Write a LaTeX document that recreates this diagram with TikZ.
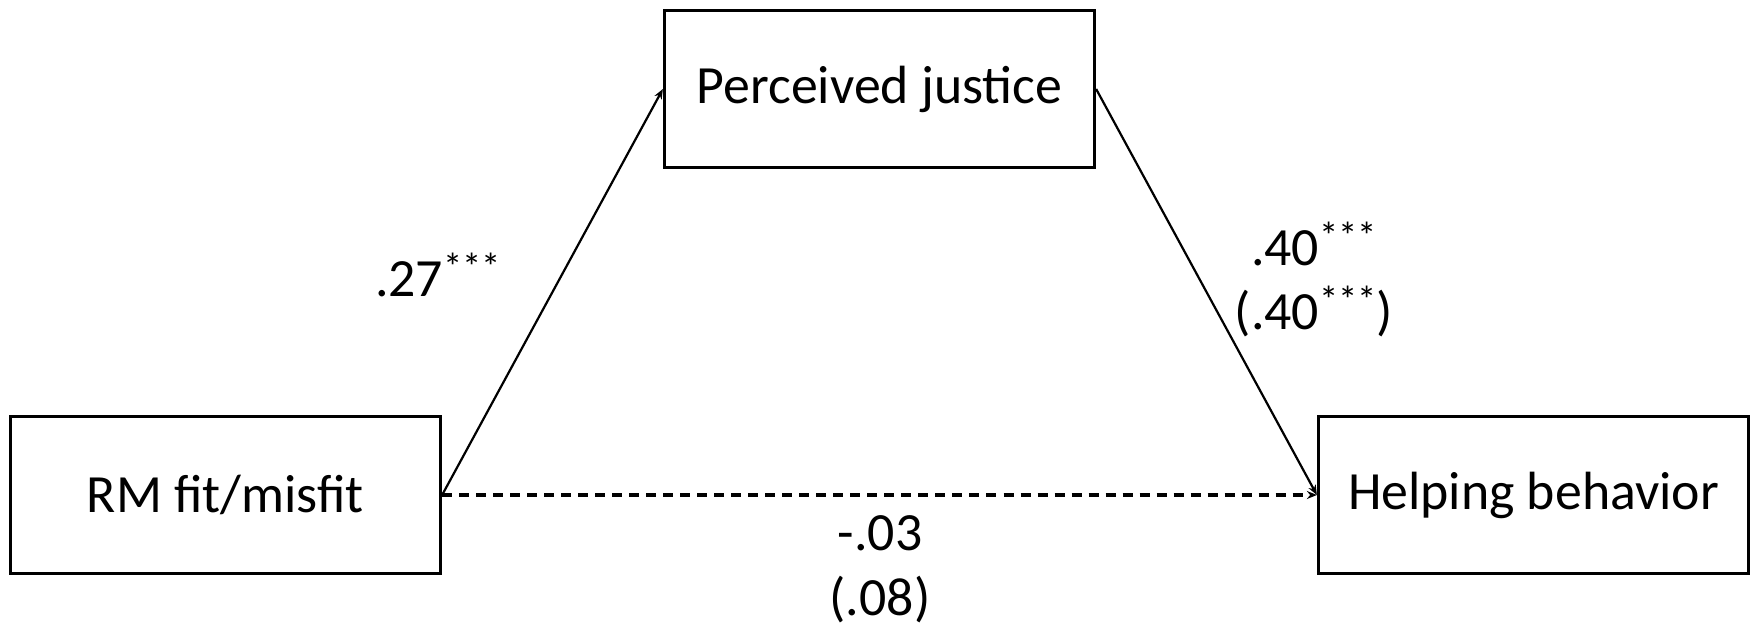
\documentclass[tikz,border=0pt]{standalone}
\usepackage{fontspec}
\setmainfont{Carlito}
\usetikzlibrary{arrows.meta}
\newcommand{\estrellas}{\raisebox{0.3em}{\fontsize{11}{11}\selectfont ***}}
\begin{document}
\begin{tikzpicture}[x=0.01cm,y=0.01cm,>={Stealth[length=0.1cm,width=0.08cm]},
        caja/.style={draw,line width=0.03cm,minimum width=4.30cm,minimum height=1.57cm,inner sep=0pt,font=\fontsize{15.3}{18.3}\selectfont},
        coef/.style={align=center,inner sep=0pt,font=\fontsize{15.3}{18.3}\selectfont}]
        \useasboundingbox (0,0) rectangle (1760,633);
        \node[caja] (rm) at (225.5,138) {RM fit/misfit}; % caja izquierda
        \node[caja] (pj) at (879.5,544) {Perceived justice}; % caja arriba
        \node[caja] (hb) at (1533.5,138) {Helping behavior}; % caja derecha
        \draw[line width=0.022cm,->] (rm.east) -- (pj.west);
        \draw[line width=0.022cm,->] (pj.east) -- (hb.west);
        \draw[line width=0.03cm,->,dash pattern=on 0.1cm off 0.07cm] (rm.east) -- (hb.west);
        \node[coef,anchor=base] (a) at (438,336) {.27\estrellas};
        \node[coef,anchor=base] (b) at (1314,303) {.40\estrellas\\(.40\estrellas)};
        \node[coef,anchor=base] (c) at (880,18) {-.03\\(.08)};
\end{tikzpicture}
\end{document}
